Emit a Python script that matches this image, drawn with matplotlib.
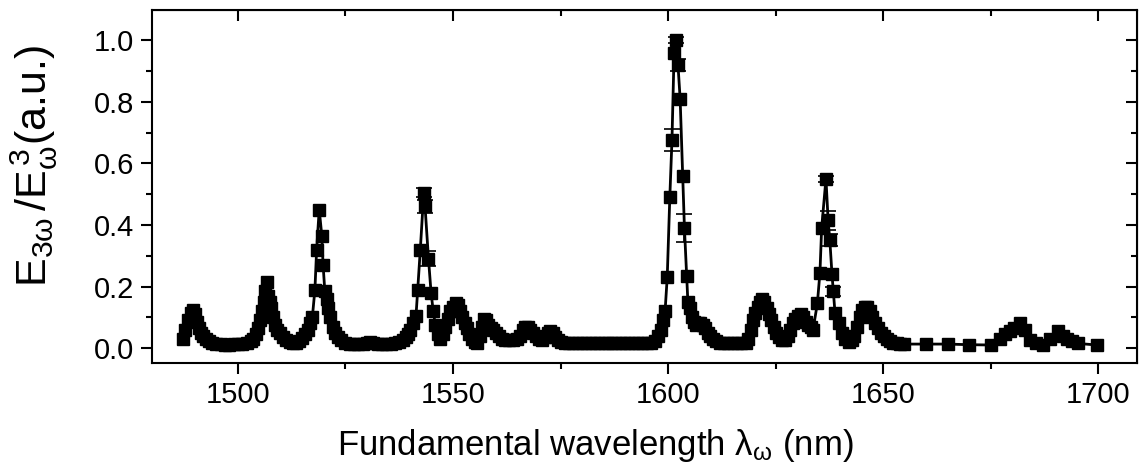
import matplotlib
matplotlib.use("Agg")
import matplotlib.pyplot as plt
from matplotlib.ticker import MultipleLocator

plt.rcParams['font.family'] = ['Liberation Sans', 'DejaVu Sans']
plt.rcParams['mathtext.fontset'] = 'custom'
plt.rcParams['mathtext.rm'] = 'Liberation Sans'
plt.rcParams['mathtext.it'] = 'Liberation Sans'
plt.rcParams['mathtext.default'] = 'regular'

wl = [1487.2, 1487.8, 1488.4, 1489.0, 1489.5, 1490.0, 1490.4, 1490.9, 1491.4, 1491.9,
      1492.5, 1493.2, 1494.0, 1495.0, 1496.0, 1497.0, 1498.0, 1499.0, 1500.0, 1501.0,
      1502.0, 1503.0, 1503.6, 1504.2, 1504.7, 1505.1, 1505.6, 1506.0, 1506.4, 1506.7,
      1507.1, 1507.4, 1507.7, 1508.2, 1508.7, 1509.2, 1509.8, 1510.5, 1511.2, 1512.0,
      1512.8, 1513.6, 1514.3, 1515.0, 1515.6, 1516.2, 1516.7, 1517.3, 1517.9, 1518.3,
      1518.9, 1519.5, 1519.8, 1520.2, 1520.6, 1521.0, 1521.5, 1522.0, 1522.6, 1523.3,
      1524.0, 1525.0, 1526.0, 1527.0, 1528.0, 1529.0, 1530.0, 1530.7, 1531.5, 1532.5,
      1533.5, 1534.5, 1535.5, 1536.5, 1537.5, 1538.3, 1539.0, 1539.5, 1540.1, 1540.7,
      1541.4, 1541.8, 1542.4, 1543.2, 1543.5, 1544.3, 1544.9, 1545.4, 1545.9, 1546.4,
      1547.0, 1547.6, 1548.2, 1548.8, 1549.4, 1550.0, 1550.6, 1551.1, 1551.6, 1552.1,
      1552.7, 1553.2, 1553.8, 1554.4, 1555.0, 1555.6, 1556.2, 1556.7, 1557.2, 1557.7,
      1558.2, 1558.8, 1559.4, 1560.0, 1560.7, 1561.4, 1562.2, 1563.0, 1564.0, 1564.8,
      1565.5, 1566.2, 1566.8, 1567.4, 1568.0, 1568.7, 1569.4, 1570.1, 1570.8, 1571.4,
      1572.0, 1572.6, 1573.2, 1573.8, 1574.4, 1575.0, 1576.0, 1577.0, 1578.0, 1579.0,
      1580.0, 1581.0, 1582.0, 1583.0, 1584.0, 1585.0, 1586.0, 1587.0, 1588.0, 1589.0,
      1590.0, 1591.0, 1592.0, 1593.0, 1594.0, 1595.0, 1596.0, 1597.0, 1597.7, 1598.3,
      1598.8, 1599.3, 1599.8, 1600.4, 1600.9, 1601.4, 1601.8, 1602.3, 1602.8, 1603.4,
      1603.8, 1604.3, 1604.6, 1605.0, 1605.5, 1606.0, 1606.5, 1607.0, 1607.5, 1608.0,
      1608.6, 1609.2, 1609.8, 1610.5, 1611.2, 1612.0, 1613.0, 1614.0, 1615.0, 1616.0,
      1617.0, 1618.0, 1618.6, 1619.2, 1619.8, 1620.3, 1620.8, 1621.4, 1621.9, 1622.4,
      1622.9, 1623.5, 1624.0, 1624.6, 1625.2, 1625.8, 1626.5, 1627.2, 1627.8, 1628.4,
      1629.0, 1629.6, 1630.2, 1630.8, 1631.4, 1632.0, 1632.6, 1633.2, 1633.7, 1634.7,
      1635.3, 1635.7, 1636.7, 1637.2, 1637.6, 1638.1, 1638.4, 1638.8, 1639.8, 1640.5,
      1641.2, 1642.0, 1642.7, 1643.3, 1643.9, 1644.5, 1645.1, 1645.7, 1646.3, 1646.9,
      1647.5, 1648.1, 1648.7, 1649.4, 1650.1, 1650.8, 1651.6, 1652.4, 1653.2, 1654.0,
      1654.9, 1660.0, 1665.0, 1670.0, 1675.0, 1677.2, 1678.4, 1679.5, 1680.5, 1681.9,
      1683.0, 1684.2, 1685.5, 1687.2, 1688.8, 1690.7, 1691.8, 1692.8, 1694.0, 1695.3,
      1699.7]
sig = [0.030, 0.060, 0.090, 0.115, 0.125, 0.110, 0.085, 0.065, 0.050, 0.040,
       0.030, 0.022, 0.017, 0.014, 0.012, 0.011, 0.011, 0.012, 0.012, 0.013,
       0.016, 0.022, 0.030, 0.045, 0.065, 0.090, 0.120, 0.150, 0.185, 0.215,
       0.170, 0.150, 0.130, 0.100, 0.075, 0.060, 0.048, 0.035, 0.025, 0.020,
       0.016, 0.018, 0.024, 0.032, 0.045, 0.060, 0.080, 0.100, 0.190, 0.320,
       0.450, 0.365, 0.270, 0.185, 0.160, 0.130, 0.100, 0.070, 0.050, 0.035,
       0.025, 0.018, 0.014, 0.013, 0.012, 0.013, 0.016, 0.020, 0.016, 0.014,
       0.013, 0.013, 0.014, 0.016, 0.020, 0.026, 0.035, 0.045, 0.060, 0.080,
       0.105, 0.190, 0.320, 0.505, 0.460, 0.290, 0.180, 0.120, 0.075, 0.045,
       0.030, 0.045, 0.070, 0.095, 0.120, 0.135, 0.145, 0.140, 0.120, 0.100,
       0.080, 0.065, 0.045, 0.030, 0.020, 0.018, 0.040, 0.070, 0.095, 0.090,
       0.075, 0.065, 0.060, 0.050, 0.040, 0.030, 0.025, 0.025, 0.025, 0.030,
       0.040, 0.060, 0.070, 0.070, 0.060, 0.050, 0.040, 0.030, 0.025, 0.035,
       0.050, 0.055, 0.050, 0.035, 0.025, 0.020, 0.017, 0.017, 0.017, 0.017,
       0.017, 0.017, 0.017, 0.017, 0.017, 0.017, 0.017, 0.017, 0.017, 0.017,
       0.017, 0.017, 0.017, 0.017, 0.017, 0.017, 0.018, 0.022, 0.040, 0.060,
       0.090, 0.120, 0.230, 0.490, 0.675, 0.960, 1.000, 0.920, 0.810, 0.560,
       0.390, 0.235, 0.150, 0.130, 0.100, 0.085, 0.075, 0.080, 0.080, 0.075,
       0.065, 0.050, 0.040, 0.030, 0.022, 0.018, 0.015, 0.015, 0.015, 0.015,
       0.015, 0.017, 0.030, 0.060, 0.090, 0.115, 0.135, 0.150, 0.160, 0.150,
       0.130, 0.110, 0.090, 0.070, 0.050, 0.035, 0.025, 0.025, 0.040, 0.060,
       0.080, 0.095, 0.105, 0.110, 0.100, 0.085, 0.075, 0.070, 0.060, 0.145,
       0.245, 0.390, 0.550, 0.415, 0.350, 0.240, 0.185, 0.115, 0.080, 0.050,
       0.030, 0.020, 0.025, 0.040, 0.070, 0.100, 0.125, 0.135, 0.135, 0.120,
       0.100, 0.080, 0.065, 0.050, 0.040, 0.030, 0.022, 0.018, 0.015, 0.014,
       0.013, 0.013, 0.013, 0.011, 0.010, 0.030, 0.045, 0.055, 0.065, 0.083,
       0.060, 0.025, 0.015, 0.010, 0.030, 0.055, 0.040, 0.030, 0.022, 0.015,
       0.010]

# points with visible error bars
err_wl = [1543.2, 1543.5, 1544.3, 1600.9, 1601.8, 1602.3, 1603.8, 1636.7, 1637.2, 1637.6, 1638.4]
err_sig = [0.505, 0.460, 0.290, 0.675, 1.000, 0.920, 0.390, 0.550, 0.415, 0.350, 0.185]
err_val = [0.015, 0.020, 0.025, 0.035, 0.010, 0.020, 0.045, 0.010, 0.030, 0.020, 0.015]

fig = plt.figure(figsize=(11.42, 4.68), dpi=100)
ax = fig.add_axes([0.133, 0.224, 0.8626, 0.7546])

ax.errorbar(err_wl, err_sig, yerr=err_val, fmt='none', ecolor='black',
            elinewidth=1.2, capsize=6, capthick=1.2, zorder=2)
ax.plot(wl, sig, color='black', lw=2, marker='s', ms=8, mfc='black', mec='black', zorder=3)

ax.set_xlim(1480, 1709)
ax.set_ylim(-0.049, 1.098)
ax.xaxis.set_major_locator(MultipleLocator(50))
ax.xaxis.set_minor_locator(MultipleLocator(25))
ax.yaxis.set_major_locator(MultipleLocator(0.2))
ax.yaxis.set_minor_locator(MultipleLocator(0.1))
ax.yaxis.set_major_formatter(plt.FormatStrFormatter('%.1f'))

ax.tick_params(which='major', direction='out', length=8, width=1.5, labelsize=21, pad=5)
ax.tick_params(which='minor', direction='out', length=4, width=1.5)
for s in ax.spines.values():
    s.set_linewidth(1.5)

# mirrored ticks pointing inward on top and right
top = ax.secondary_xaxis('top')
top.xaxis.set_major_locator(MultipleLocator(50))
top.xaxis.set_minor_locator(MultipleLocator(25))
top.tick_params(which='major', direction='in', length=8, width=1.5, labeltop=False)
top.tick_params(which='minor', direction='in', length=4, width=1.5)
right = ax.secondary_yaxis('right')
right.yaxis.set_major_locator(MultipleLocator(0.2))
right.yaxis.set_minor_locator(MultipleLocator(0.1))
right.tick_params(which='major', direction='in', length=8, width=1.5, labelright=False)
right.tick_params(which='minor', direction='in', length=4, width=1.5)

ax.set_xlabel(r'Fundamental wavelength $\lambda_{\omega}$ (nm)', fontsize=25)
ax.set_ylabel(r'$E_{3\omega}\,/E_{\omega}^{\,3}$(a.u.)', fontsize=31)
ax.xaxis.set_label_coords(0.45, -0.18)
ax.yaxis.set_label_coords(-0.093, 0.558)

fig.savefig('out.png', dpi=100)
